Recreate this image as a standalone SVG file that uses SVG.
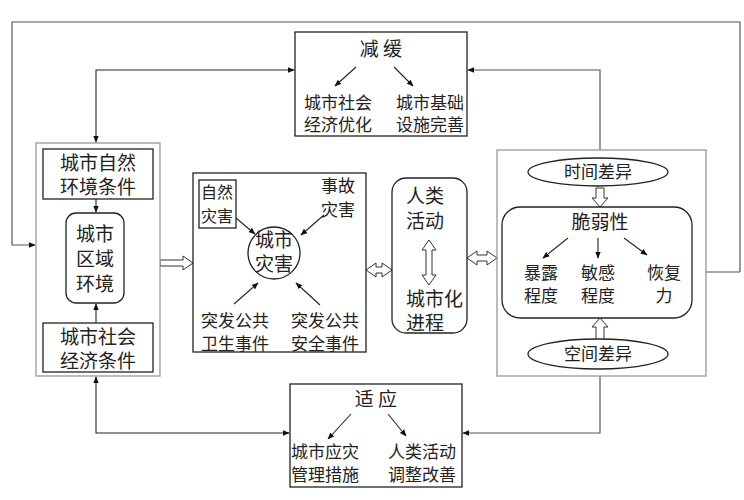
<svg xmlns="http://www.w3.org/2000/svg" width="744" height="500" viewBox="0 0 744 500">
<defs>
<marker id="ah" viewBox="0 0 10 10" refX="9" refY="5" markerWidth="7" markerHeight="7" orient="auto" markerUnits="userSpaceOnUse"><path d="M0,1 L10,5 L0,9 z" fill="#111"/></marker>
<marker id="ahs" viewBox="0 0 10 10" refX="9" refY="5" markerWidth="7" markerHeight="7" orient="auto-start-reverse" markerUnits="userSpaceOnUse"><path d="M0,1 L10,5 L0,9 z" fill="#111"/></marker>
</defs>
<style>
text{font-family:"Noto Sans CJK SC","Noto Sans CJK JP",sans-serif;font-size:17px;fill:#222;text-anchor:middle}
.box{fill:#fff;stroke:#222;stroke-width:1.3}
.gbox{fill:#fff;stroke:#999;stroke-width:1.3}
.ln{fill:none;stroke:#222;stroke-width:1.1}
.gln{fill:none;stroke:#555;stroke-width:1.2}
.hol{fill:#fff;stroke:#333;stroke-width:1}
.t{font-size:19px}
.b{font-size:19px}
.l{text-anchor:start}
</style>
<rect width="744" height="500" fill="#fff"/>
<g id="connectors">
<polyline class="gln" points="740,272 740,22 12,22 12,245 35,245" marker-end="url(#ah)"/>
<line class="gln" x1="706" y1="272" x2="740" y2="272"/>
<polyline class="ln" points="96,142 96,70 294,70" marker-start="url(#ahs)" marker-end="url(#ah)" stroke-width="1.8"/>
<polyline class="gln" points="600,150 600,70 468,70" marker-end="url(#ah)"/>
<polyline class="ln" points="96,377 96,433 289,433" marker-start="url(#ahs)" marker-end="url(#ah)"/>
<polyline class="gln" points="600,376 600,433 463,433" marker-end="url(#ah)"/>
<polygon class="hol" points="160,260 183,260 183,256 193,263 183,270 183,266 160,266"/>
<polygon class="hol" points="366,270 376,263 376,267 382,267 382,263 392,270 382,277 382,273 376,273 376,277"/>
<polygon class="hol" points="467,258 477,251 477,255 487,255 487,251 497,258 487,265 487,261 477,261 477,265"/>
</g>
<g id="left-region">
<rect class="gbox" x="36" y="143" width="124" height="233"/>
</g>
<g id="natural-env">
<rect class="box" x="43" y="149" width="110" height="50"/>
<text x="98" y="170" class="b">城市自然</text>
<text x="98" y="194" class="b">环境条件</text>
</g>
<g id="region-env">
<rect class="box" x="66" y="213" width="58" height="90" rx="10"/>
<text x="95" y="241" class="b">城市</text>
<text x="95" y="266" class="b">区域</text>
<text x="95" y="291" class="b">环境</text>
<line class="ln" x1="96" y1="199" x2="96" y2="212" marker-end="url(#ah)"/>
<line class="ln" x1="96" y1="323" x2="96" y2="304" marker-end="url(#ah)"/>
</g>
<g id="socio-econ">
<rect class="box" x="43" y="323" width="110" height="49"/>
<text x="98" y="344" class="b">城市社会</text>
<text x="98" y="368" class="b">经济条件</text>
</g>
<g id="disaster">
<rect class="box" x="193" y="173" width="173" height="179"/>
<rect class="box" x="199" y="180" width="37" height="48"/>
<text x="217" y="198" style="font-size:16px">自然</text>
<text x="217" y="222" style="font-size:16px">灾害</text>
<text x="338" y="192">事故</text>
<text x="338" y="216">灾害</text>
<ellipse class="box" cx="274" cy="253" rx="26" ry="26"/>
<text x="274" y="247" class="b">城市</text>
<text x="274" y="271" class="b">灾害</text>
<line class="ln" x1="236" y1="218" x2="255" y2="234" marker-end="url(#ah)"/>
<line class="ln" x1="324" y1="215" x2="301" y2="235" marker-end="url(#ah)"/>
<line class="ln" x1="234" y1="304" x2="258" y2="283" marker-end="url(#ah)"/>
<line class="ln" x1="320" y1="305" x2="296" y2="283" marker-end="url(#ah)"/>
<text x="235" y="327">突发公共</text>
<text x="235" y="350">卫生事件</text>
<text x="325" y="327">突发公共</text>
<text x="325" y="350">安全事件</text>
</g>
<g id="human">
<rect class="box" x="392" y="178" width="75" height="155" rx="14"/>
<text x="406" y="203" class="b l">人类</text>
<text x="406" y="228" class="b l">活动</text>
<polygon class="hol" points="429,240 436,250 432,250 432,275 436,275 429,285 422,275 426,275 426,250 422,250"/>
<text x="406" y="306" class="b l">城市化</text>
<text x="406" y="330" class="b l">进程</text>
</g>
<g id="vulnerability-region">
<rect class="gbox" x="497" y="150" width="209" height="226"/>
<ellipse class="box" cx="598" cy="172" rx="70" ry="14"/>
<text x="598" y="178">时间差异</text>
<polygon class="hol" points="596,188 604,188 604,198 608,198 600,207 592,198 596,198"/>
<rect class="box" x="502" y="207" width="190" height="111" rx="18"/>
<text x="600" y="229" class="t">脆弱性</text>
<line class="ln" x1="568" y1="238" x2="543" y2="258" marker-end="url(#ah)"/>
<line class="ln" x1="598" y1="238" x2="598" y2="258" marker-end="url(#ah)"/>
<line class="ln" x1="624" y1="238" x2="647" y2="255" marker-end="url(#ah)"/>
<text x="541" y="279">暴露</text>
<text x="541" y="302">程度</text>
<text x="598" y="279">敏感</text>
<text x="598" y="302">程度</text>
<text x="664" y="279">恢复</text>
<text x="664" y="302">力</text>
<polygon class="hol" points="600,318 608,327 604,327 604,340 596,340 596,327 592,327"/>
<ellipse class="box" cx="598" cy="354" rx="70" ry="15"/>
<text x="598" y="360">空间差异</text>
</g>
<g id="mitigation">
<rect class="box" x="295" y="32" width="172" height="104"/>
<text x="381" y="56" class="t">减 缓</text>
<line class="ln" x1="356" y1="67" x2="335" y2="86" marker-end="url(#ah)"/>
<line class="ln" x1="394" y1="67" x2="413" y2="86" marker-end="url(#ah)"/>
<text x="338" y="109">城市社会</text>
<text x="338" y="131">经济优化</text>
<text x="430" y="109">城市基础</text>
<text x="430" y="131">设施完善</text>
</g>
<g id="adaptation">
<rect class="box" x="290" y="384" width="172" height="103"/>
<text x="376" y="406" class="t">适 应</text>
<line class="ln" x1="351" y1="414" x2="328" y2="439" marker-end="url(#ah)"/>
<line class="ln" x1="388" y1="414" x2="406" y2="436" marker-end="url(#ah)"/>
<text x="325" y="458">城市应灾</text>
<text x="325" y="481">管理措施</text>
<text x="422" y="458">人类活动</text>
<text x="422" y="481">调整改善</text>
</g>
</svg>
